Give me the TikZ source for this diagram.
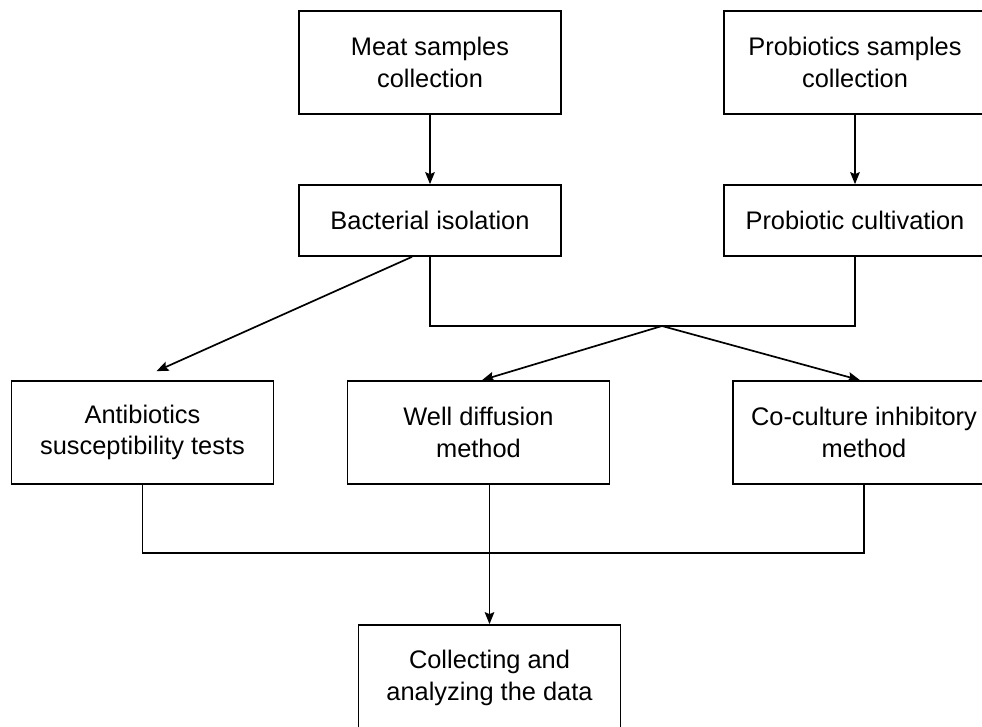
\documentclass[tikz,border=0pt]{standalone}
\usepackage{fontspec}
\setmainfont{Liberation Sans}
\usepackage{tikz}
\usetikzlibrary{arrows,arrows.meta,shapes,positioning,calc}
\tikzset{
    step box/.style={
        rectangle,
        draw=black,
        line width=0.85pt,
        minimum width=131pt,
        minimum height=51.5pt,
        align=center,
        font=\fontsize{12.7}{15.8}\selectfont,
    },
    link/.style={
        line width=0.85pt,
    },
}

\begin{document}
\begin{tikzpicture}[>={Stealth[length=6pt,width=4.8pt,inset=1pt]},auto]
	    \useasboundingbox (0,0) rectangle (491pt,-363.5pt);
	    \node [step box] (meat) at (215pt,-31.25pt) {Meat samples\\collection};
	    \node [step box] (probs) [node distance=212.5pt,right of=meat] {Probiotics samples\\collection};
	    \node [step box,minimum height=35.5pt] (bact) [node distance=79pt,below of=meat] {Bacterial isolation};
	    \node [step box,minimum height=35.5pt] (cult) [node distance=79pt,below of=probs] {Probiotic cultivation};
	    \node [step box] (well) at (239.25pt,-216.25pt) {Well diffusion\\method};
	    \node [step box] (anti) [node distance=168pt,left of=well] {Antibiotics\\susceptibility tests};
	    \node [step box] (coc) [node distance=192.75pt,right of=well] {Co-culture inhibitory\\method};
	    \node [step box,minimum height=53pt] (data) at (244.75pt,-339pt) {Collecting and\\analyzing the data};
	    \coordinate (join) at (331pt,-163pt);
	    \coordinate (meet) at (244.75pt,-276.5pt);
	    \draw [link,->] (meat) -- (bact);
	    \draw [link,->] (probs) -- (cult);
	    \draw [link,->] ([xshift=-9pt]bact.south) -- ([xshift=7pt,yshift=4.5pt]anti.north);
	    \draw [link] (bact.south) |- (join) -| (cult.south);
	    \draw [link,->] (join) -- ([xshift=1.75pt]well.north);
	    \draw [link,->] (join) -- ([xshift=-2pt]coc.north);
	    \draw [link] (anti.south) |- (meet) -| (coc.south);
	    \draw [link,->] (well.south -| data.north) -- (data.north);
	\end{tikzpicture}
\end{document}
